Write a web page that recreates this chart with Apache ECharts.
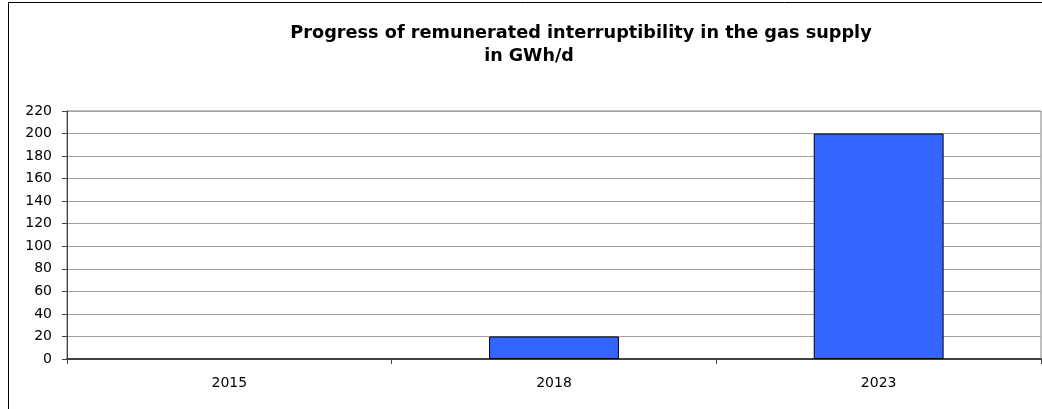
<!DOCTYPE html>
<html><head><meta charset="utf-8">
<script src="https://cdn.jsdelivr.net/npm/echarts@6/dist/echarts.min.js"></script>
<style>html,body{margin:0;padding:0;background:#fff}#c{width:1042px;height:409px}</style>
</head><body><div id="c"></div>
<script>
const categories = ['2015', '2018', '2023'];
const values = [0, 20, 200];
const titleLines = ['Progress of remunerated interruptibility in the gas supply', 'in GWh/d'];

const FONT = 'DejaVu Sans, Liberation Sans, Arial';
const chart = echarts.init(document.getElementById('c'), null, {renderer: 'canvas'});
chart.setOption({
  animation: false,
  backgroundColor: '#fff',
  graphic: [
    {type: 'rect', shape: {x: 8.5, y: 2.5, width: 1100, height: 500},
     style: {fill: 'none', stroke: '#000', lineWidth: 1}, silent: true},
    {type: 'text', x: 581, y: 33, silent: true,
     style: {text: titleLines[0], font: 'bold 17.7px ' + FONT, fill: '#000', textAlign: 'center', textVerticalAlign: 'middle'}},
    {type: 'text', x: 529, y: 56, silent: true,
     style: {text: titleLines[1], font: 'bold 17.5px ' + FONT, fill: '#000', textAlign: 'center', textVerticalAlign: 'middle'}}
  ],
  grid: {left: 67, right: 1, top: 111, bottom: 50, containLabel: false, show: true, borderColor: '#808080', borderWidth: 1},
  xAxis: {
    type: 'category', data: categories,
    axisLine: {lineStyle: {color: '#404040', width: 2}},
    axisTick: {show: true, alignWithLabel: false, length: 5, lineStyle: {color: '#404040'}},
    axisLabel: {fontFamily: FONT, fontSize: 14, color: '#000', margin: 17},
    splitLine: {show: false}
  },
  yAxis: {
    type: 'value', min: 0, max: 220, interval: 20,
    axisLine: {show: true, lineStyle: {color: '#404040', width: 1}},
    axisTick: {show: true, length: 5, lineStyle: {color: '#404040'}},
    axisLabel: {fontFamily: FONT, fontSize: 14, color: '#000', margin: 15},
    splitLine: {show: true, lineStyle: {color: '#a0a0a0', width: 1}}
  },
  series: [{
    type: 'bar', barWidth: '40%',
    data: values.map(v => v === 0 ? {value: v, itemStyle: {borderWidth: 0}} : v),
    itemStyle: {color: '#3366FF', borderColor: '#000', borderWidth: 1}
  }]
});
</script></body></html>
